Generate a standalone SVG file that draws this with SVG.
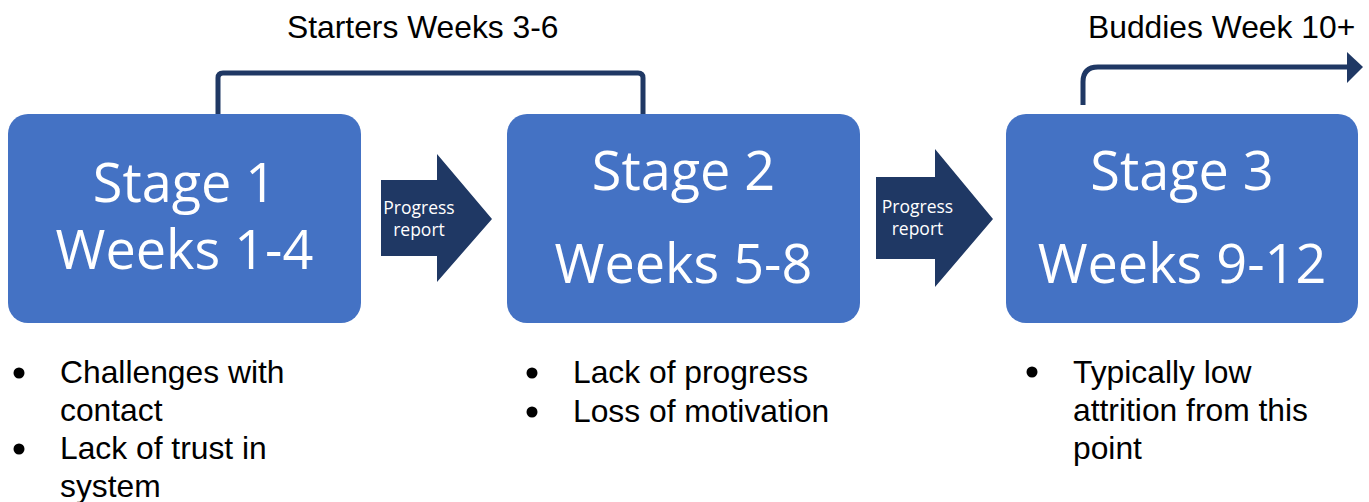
<svg xmlns="http://www.w3.org/2000/svg" width="1369" height="502" viewBox="0 0 1369 502">
<style>
.box{fill:#4472C4;}
.stage{font-family:"Open Sans","Noto Sans",sans-serif;font-size:54px;fill:#ffffff;text-anchor:middle;}
.arr{fill:#1F3864;}
.arrtxt{font-family:"Open Sans","Noto Sans",sans-serif;font-size:17.5px;fill:#ffffff;text-anchor:middle;}
.txt{font-family:"Liberation Sans",Arial,sans-serif;font-size:31.8px;fill:#000000;}
.line{fill:none;stroke:#1F3864;stroke-width:5;}
</style>
<rect width="1369" height="502" fill="#ffffff"/>
<g id="connectors">
  <path class="line" d="M218,114 V78 Q218,73 223,73 H638 Q643,73 643,78 V114"/>
  <path class="line" d="M1083,105 V82 Q1083,67 1098,67 H1349"/>
  <polygon class="arr" points="1347,52 1363,67 1347,83"/>
  <g id="arrow1">
    <polygon class="arr" points="381,180 437,180 437,154 492,219 437,282 437,256 381,256"/>
    <text class="arrtxt" x="419" y="214">Progress</text>
    <text class="arrtxt" x="419" y="236">report</text>
  </g>
  <g id="arrow2">
    <polygon class="arr" points="876,177 935,177 935,149 993,219 935,287 935,259 876,259"/>
    <text class="arrtxt" x="917.5" y="213">Progress</text>
    <text class="arrtxt" x="917.5" y="235">report</text>
  </g>
</g>
<g id="title-starters"><text class="txt" x="287" y="38">Starters Weeks 3-6</text></g>
<g id="title-buddies"><text class="txt" x="1088" y="38">Buddies Week 10+</text></g>
<g id="stage1">
  <rect class="box" x="8" y="114" width="353" height="209" rx="20"/>
  <text class="stage" x="184.5" y="202">Stage 1</text>
  <text class="stage" x="184.5" y="269">Weeks 1-4</text>
</g>
<g id="stage2">
  <rect class="box" x="507" y="114" width="353" height="209" rx="20"/>
  <text class="stage" x="683.5" y="190">Stage 2</text>
  <text class="stage" x="683.5" y="283">Weeks 5-8</text>
</g>
<g id="stage3">
  <rect class="box" x="1006" y="114" width="352" height="209" rx="20"/>
  <text class="stage" x="1182" y="190">Stage 3</text>
  <text class="stage" x="1182" y="283">Weeks 9-12</text>
</g>
<g id="notes1">
  <circle cx="19" cy="373" r="5.5"/>
  <text class="txt" x="60" y="383">Challenges with</text>
  <text class="txt" x="60" y="421">contact</text>
  <circle cx="19" cy="449" r="5.5"/>
  <text class="txt" x="60" y="459">Lack of trust in</text>
  <text class="txt" x="60" y="497">system</text>
</g>
<g id="notes2">
  <circle cx="532" cy="373" r="5.5"/>
  <text class="txt" x="573" y="383">Lack of progress</text>
  <circle cx="532" cy="412" r="5.5"/>
  <text class="txt" x="573" y="422">Loss of motivation</text>
</g>
<g id="notes3">
  <circle cx="1032" cy="372" r="5.5"/>
  <text class="txt" x="1073" y="383">Typically low</text>
  <text class="txt" x="1073" y="421">attrition from this</text>
  <text class="txt" x="1073" y="459">point</text>
</g>
</svg>
